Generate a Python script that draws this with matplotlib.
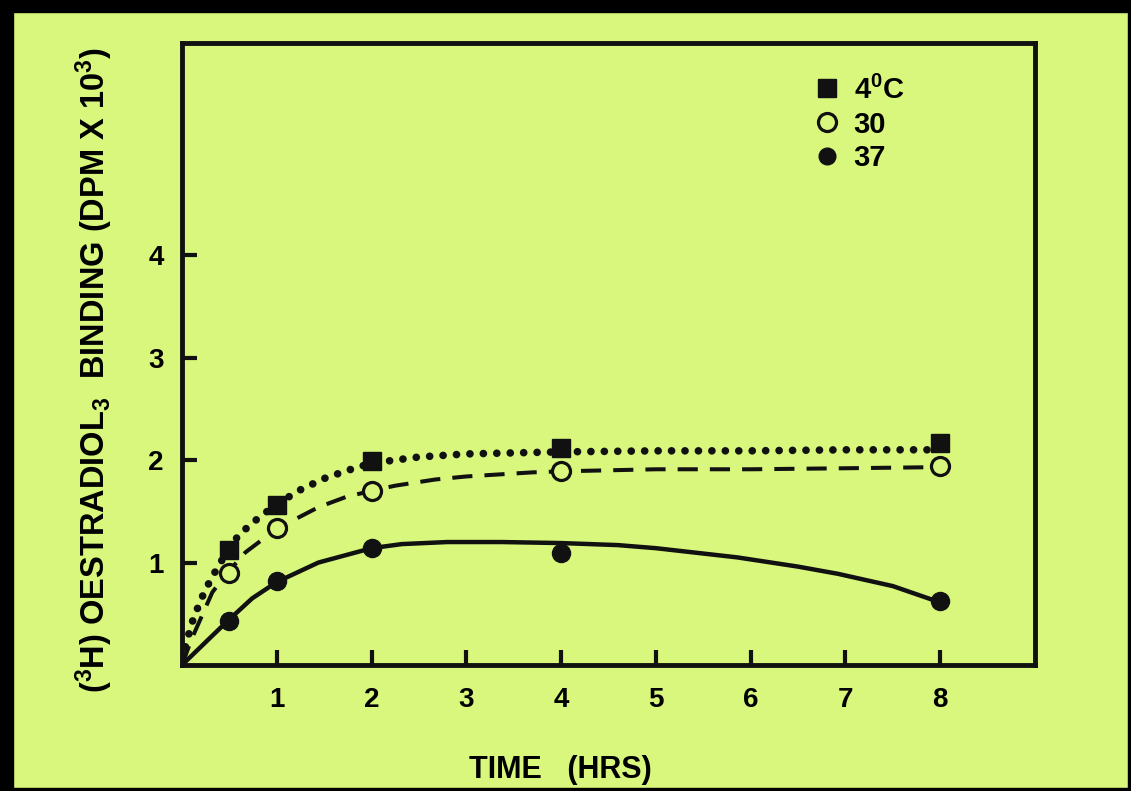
import matplotlib
matplotlib.use("Agg")
import matplotlib.pyplot as plt
from matplotlib.lines import Line2D
from matplotlib.patches import Rectangle

plt.rcParams['font.family'] = ['Liberation Sans', 'DejaVu Sans']
plt.rcParams['font.weight'] = 'bold'
plt.rcParams['mathtext.default'] = 'regular'

# ---- data ----
times = [0.5, 1, 2, 4, 8]
temp_labels = ['4$^0$C', '30', '37']
bind_4 = [1.12, 1.56, 1.99, 2.12, 2.17]
bind_30 = [0.90, 1.34, 1.70, 1.89, 1.94]
bind_37 = [0.43, 0.82, 1.14, 1.09, 0.62]

# fitted curves as drawn on the picture
curve4_t = [0, 0.1, 0.2, 0.3, 0.47, 0.6, 0.8, 1.0, 1.25, 1.5, 1.75, 2.0, 2.5, 3.0, 3.5, 4.0, 5.0, 6.0, 7.0, 7.9]
curve4_y = [0.05, 0.40, 0.64, 0.83, 1.10, 1.27, 1.43, 1.57, 1.71, 1.82, 1.90, 1.97, 2.03, 2.06, 2.07, 2.08, 2.09, 2.09, 2.10, 2.10]
curve30_t = [0, 0.1, 0.21, 0.32, 0.47, 0.67, 1.0, 1.44, 1.73, 2.0, 2.25, 2.67, 3.0, 3.7, 4.0, 5, 6, 7, 7.9]
curve30_y = [0.0, 0.25, 0.48, 0.71, 0.89, 1.10, 1.33, 1.54, 1.64, 1.70, 1.75, 1.81, 1.84, 1.88, 1.89, 1.91, 1.91, 1.92, 1.93]
curve37_t = [0, 0.47, 0.74, 1.0, 1.44, 2.0, 2.32, 2.8, 3.37, 4.0, 4.6, 5.0, 5.86, 6.5, 6.92, 7.5, 7.97]
curve37_y = [0, 0.42, 0.65, 0.81, 1.00, 1.14, 1.18, 1.20, 1.20, 1.19, 1.17, 1.14, 1.05, 0.96, 0.89, 0.77, 0.62]

xticks = [1, 2, 3, 4, 5, 6, 7, 8]
yticks = [1, 2, 3, 4]

bg = '#d8f77c'
ink = '#111111'

fig = plt.figure(figsize=(11.31, 7.91), dpi=100, facecolor=bg)
ax = fig.add_axes([182/1131, 1 - 665/791, (1035-182)/1131, (665-43)/791])
ax.set_facecolor(bg)

ax.plot(curve4_t, curve4_y, color=ink, lw=5.5, linestyle=(0, (0.01, 1.75)),
        dash_capstyle='round', solid_capstyle='round')
ax.plot(curve30_t, curve30_y, color=ink, lw=2.9, linestyle=(0, (5, 3)))
ax.plot(curve37_t, curve37_y, color=ink, lw=3.2, solid_capstyle='round')

ax.plot(times, bind_4, linestyle='none', marker='s', ms=12.5, color=ink, mec=ink)
ax.plot(times, bind_30, linestyle='none', marker='o', ms=13, mfc=bg, mec=ink, mew=2.3)
ax.plot(times, bind_37, linestyle='none', marker='o', ms=13, color=ink)

ax.set_xlim(0, 9)
ax.set_ylim(0, 6.07)
ax.set_xticks(xticks)
ax.set_yticks(yticks)
ax.set_xticklabels([str(v) for v in xticks], fontsize=20, fontweight='bold')
ax.set_yticklabels([str(v) for v in yticks], fontsize=20, fontweight='bold')
ax.tick_params(direction='in', length=11, width=3, color=ink, top=False, right=False)
ax.tick_params(axis='x', pad=16)
ax.tick_params(axis='y', pad=13)
for s in ax.spines.values():
    s.set_linewidth(3.5)
    s.set_color(ink)

ax.set_xlabel('TIME   (HRS)', fontsize=22, fontweight='bold', va='center')
ax.xaxis.set_label_coords(0.444, -0.169)
ax.set_ylabel('($^3$H) OESTRADIOL$_3$  BINDING (DPM X 10$^3$)', fontsize=23.5, fontweight='bold')
ax.yaxis.set_label_coords(-0.0785, 0.474)

handles = [
    Line2D([], [], linestyle='none', marker='s', ms=12.5, color=ink),
    Line2D([], [], linestyle='none', marker='o', ms=13, mfc=bg, mec=ink, mew=2.3),
    Line2D([], [], linestyle='none', marker='o', ms=12, color=ink),
]
leg = ax.legend(handles, temp_labels, loc='upper left', bbox_to_anchor=(0.712, 0.99),
                frameon=False, handlelength=0.8, handletextpad=0.5,
                labelspacing=0.2, prop={'weight': 'bold', 'size': 21})

# black photo-slide frame
fig.patches.append(Rectangle((0, 1 - 12/791), 1, 12/791, transform=fig.transFigure,
                             color='black', zorder=10))
fig.patches.append(Rectangle((0, 0), 13/1131, 1, transform=fig.transFigure,
                             color='black', zorder=10))
fig.patches.append(Rectangle((0, 0), 1, 3/791, transform=fig.transFigure,
                             color='black', zorder=10))
fig.patches.append(Rectangle((1 - 3/1131, 0), 3/1131, 1, transform=fig.transFigure,
                             color='black', zorder=10))

fig.savefig('out.png', dpi=100, facecolor=bg)
